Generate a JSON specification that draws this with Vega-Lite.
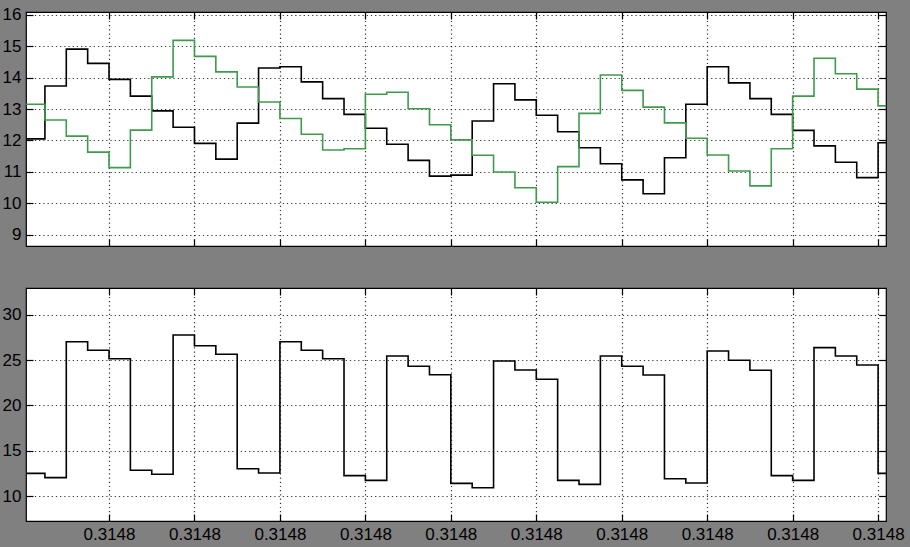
{
  "$schema": "https://vega.github.io/schema/vega-lite/v6.json",
  "padding": {"left": 0, "top": 4, "right": 30, "bottom": 40},
  "background": "#808080",
  "spacing": 38,
  "datasets": {
    "top": [
      {"s":"black","x":0,"v":12.05},{"s":"black","x":1,"v":13.73},{"s":"black","x":2,"v":14.9},{"s":"black","x":3,"v":14.45},{"s":"black","x":4,"v":13.94},{"s":"black","x":5,"v":13.41},{"s":"black","x":6,"v":12.94},{"s":"black","x":7,"v":12.42},{"s":"black","x":8,"v":11.91},{"s":"black","x":9,"v":11.41},{"s":"black","x":10,"v":12.55},{"s":"black","x":11,"v":14.3},{"s":"black","x":12,"v":14.34},{"s":"black","x":13,"v":13.86},{"s":"black","x":14,"v":13.33},{"s":"black","x":15,"v":12.83},{"s":"black","x":16,"v":12.39},{"s":"black","x":17,"v":11.88},{"s":"black","x":18,"v":11.37},{"s":"black","x":19,"v":10.87},{"s":"black","x":20,"v":10.9},{"s":"black","x":21,"v":12.62},{"s":"black","x":22,"v":13.8},{"s":"black","x":23,"v":13.29},{"s":"black","x":24,"v":12.8},{"s":"black","x":25,"v":12.28},{"s":"black","x":26,"v":11.77},{"s":"black","x":27,"v":11.26},{"s":"black","x":28,"v":10.75},{"s":"black","x":29,"v":10.31},{"s":"black","x":30,"v":11.45},{"s":"black","x":31,"v":13.15},{"s":"black","x":32,"v":14.34},{"s":"black","x":33,"v":13.83},{"s":"black","x":34,"v":13.33},{"s":"black","x":35,"v":12.83},{"s":"black","x":36,"v":12.32},{"s":"black","x":37,"v":11.83},{"s":"black","x":38,"v":11.31},{"s":"black","x":39,"v":10.82},{"s":"black","x":40,"v":11.93},{"s":"black","x":41,"v":11.93},
      {"s":"green","x":0,"v":13.15},{"s":"green","x":1,"v":12.65},{"s":"green","x":2,"v":12.14},{"s":"green","x":3,"v":11.63},{"s":"green","x":4,"v":11.14},{"s":"green","x":5,"v":12.33},{"s":"green","x":6,"v":14.02},{"s":"green","x":7,"v":15.18},{"s":"green","x":8,"v":14.67},{"s":"green","x":9,"v":14.18},{"s":"green","x":10,"v":13.7},{"s":"green","x":11,"v":13.22},{"s":"green","x":12,"v":12.7},{"s":"green","x":13,"v":12.2},{"s":"green","x":14,"v":11.7},{"s":"green","x":15,"v":11.74},{"s":"green","x":16,"v":13.47},{"s":"green","x":17,"v":13.53},{"s":"green","x":18,"v":13.01},{"s":"green","x":19,"v":12.5},{"s":"green","x":20,"v":12.02},{"s":"green","x":21,"v":11.53},{"s":"green","x":22,"v":11.0},{"s":"green","x":23,"v":10.5},{"s":"green","x":24,"v":10.04},{"s":"green","x":25,"v":11.17},{"s":"green","x":26,"v":12.86},{"s":"green","x":27,"v":14.08},{"s":"green","x":28,"v":13.59},{"s":"green","x":29,"v":13.06},{"s":"green","x":30,"v":12.56},{"s":"green","x":31,"v":12.07},{"s":"green","x":32,"v":11.54},{"s":"green","x":33,"v":11.03},{"s":"green","x":34,"v":10.56},{"s":"green","x":35,"v":11.74},{"s":"green","x":36,"v":13.41},{"s":"green","x":37,"v":14.61},{"s":"green","x":38,"v":14.12},{"s":"green","x":39,"v":13.63},{"s":"green","x":40,"v":13.1},{"s":"green","x":41,"v":13.1}
    ],
    "bottom": [
      {"x":0,"v":12.5},{"x":1,"v":12.03},{"x":2,"v":27.05},{"x":3,"v":26.1},{"x":4,"v":25.17},{"x":5,"v":12.84},{"x":6,"v":12.4},{"x":7,"v":27.79},{"x":8,"v":26.6},{"x":9,"v":25.66},{"x":10,"v":13.02},{"x":11,"v":12.54},{"x":12,"v":27.05},{"x":13,"v":26.1},{"x":14,"v":25.17},{"x":15,"v":12.25},{"x":16,"v":11.73},{"x":17,"v":25.47},{"x":18,"v":24.33},{"x":19,"v":23.4},{"x":20,"v":11.4},{"x":21,"v":10.92},{"x":22,"v":24.92},{"x":23,"v":23.92},{"x":24,"v":22.9},{"x":25,"v":11.73},{"x":26,"v":11.29},{"x":27,"v":25.47},{"x":28,"v":24.33},{"x":29,"v":23.37},{"x":30,"v":11.91},{"x":31,"v":11.44},{"x":32,"v":26.02},{"x":33,"v":25.0},{"x":34,"v":23.89},{"x":35,"v":12.25},{"x":36,"v":11.73},{"x":37,"v":26.39},{"x":38,"v":25.47},{"x":39,"v":24.48},{"x":40,"v":12.5},{"x":41,"v":12.5}
    ]
  },
  "vconcat": [
    {
      "width": 860,
      "height": 234,
      "data": {"name": "top"},
      "layer": [
        {
          "mark": {"type": "line", "interpolate": "step-after", "clip": true, "strokeWidth": 1.6},
          "encoding": {
            "x": {"field": "x", "type": "quantitative", "scale": {"domain": [0.114, 40.37], "nice": false, "zero": false},
                  "axis": {"orient": "bottom", "values": [4,8,12,16,20,24,28,32,36,40], "labels": false, "grid": true}},
            "y": {"field": "v", "type": "quantitative", "scale": {"domain": [8.65, 16.08], "nice": false, "zero": false},
                  "axis": {"orient": "left", "values": [9,10,11,12,13,14,15,16], "grid": true, "minExtent": 25, "maxExtent": 25}},
            "color": {"field": "s", "type": "nominal", "scale": {"domain": ["black","green"], "range": ["#000000","#3f9a4c"]}, "legend": null}
          }
        },
        {
          "mark": {"type": "line", "interpolate": "step-after", "clip": true, "opacity": 0},
          "encoding": {
            "x": {"field": "x", "type": "quantitative",
                  "axis": {"orient": "top", "values": [4,8,12,16,20,24,28,32,36,40], "labels": false, "grid": false}},
            "y": {"field": "v", "type": "quantitative",
                  "axis": {"orient": "right", "values": [9,10,11,12,13,14,15,16], "labels": false, "grid": false}},
            "detail": {"field": "s"}
          }
        }
      ],
      "resolve": {"axis": {"x": "independent", "y": "independent"}}
    },
    {
      "width": 860,
      "height": 233,
      "data": {"name": "bottom"},
      "layer": [
        {
          "mark": {"type": "line", "interpolate": "step-after", "clip": true, "strokeWidth": 1.6, "color": "#000000"},
          "encoding": {
            "x": {"field": "x", "type": "quantitative", "scale": {"domain": [0.114, 40.37], "nice": false, "zero": false},
                  "axis": {"orient": "bottom", "values": [4,8,12,16,20,24,28,32,36,40], "labelExpr": "'0.3148'", "grid": true}},
            "y": {"field": "v", "type": "quantitative", "scale": {"domain": [7.24, 32.98], "nice": false, "zero": false},
                  "axis": {"orient": "left", "values": [10,15,20,25,30], "grid": true, "minExtent": 25, "maxExtent": 25}}
          }
        },
        {
          "mark": {"type": "line", "interpolate": "step-after", "clip": true, "opacity": 0},
          "encoding": {
            "x": {"field": "x", "type": "quantitative",
                  "axis": {"orient": "top", "values": [4,8,12,16,20,24,28,32,36,40], "labels": false, "grid": false}},
            "y": {"field": "v", "type": "quantitative",
                  "axis": {"orient": "right", "values": [10,15,20,25,30], "labels": false, "grid": false}}
          }
        }
      ],
      "resolve": {"axis": {"x": "independent", "y": "independent"}}
    }
  ],
  "config": {
    "view": {"stroke": "#000000", "strokeWidth": 1.2, "fill": "#ffffff"},
    "axis": {
      "title": null,
      "domain": false,
      "tickColor": "#000000",
      "tickSize": -7,
      "tickWidth": 1.2,
      "gridColor": "#000000",
      "gridDash": [1.2, 3],
      "gridOpacity": 0.8,
      "gridWidth": 1.2,
      "labelFont": "Liberation Sans",
      "labelFontSize": 17,
      "labelColor": "#000000",
      "labelPadding": 12,
      "labelFlush": false,
      "labelOverlap": false
    }
  }
}
